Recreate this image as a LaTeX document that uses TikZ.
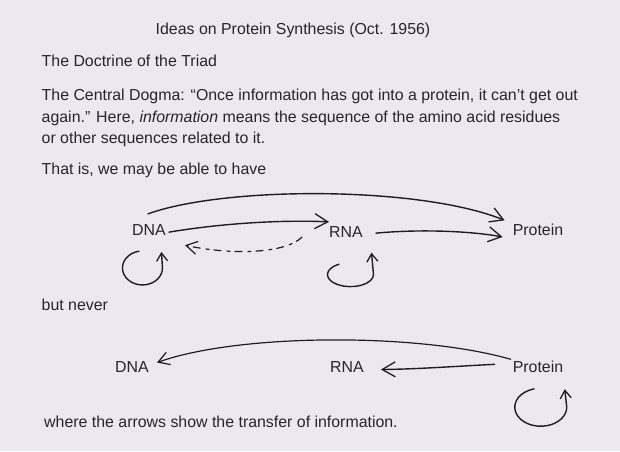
\documentclass[tikz,border=0pt]{standalone}
\usepackage{fontspec}
\setmainfont{Liberation Sans}
\usetikzlibrary{arrows.meta}
\definecolor{bg}{HTML}{ECE8F2}
\definecolor{ink}{HTML}{1E1E1E}
\definecolor{txtc}{HTML}{262626}
\begin{document}
\begin{tikzpicture}[x=1pt,y=-1pt,
  txt/.style={font=\fontsize{15.9}{18}\selectfont, text=txtc, inner sep=0pt},
  para/.style={txt, anchor=base west},
  lab/.style={txt, anchor=base},
  arr/.style={draw=ink, line width=1.4pt, line cap=round,
    -{Straight Barb[length=13pt,width=15pt,line width=1.3pt]}},
  arrs/.style={draw=ink, line width=1.2pt, line cap=round,
    -{Straight Barb[length=11pt,width=13pt,line width=1.2pt]}},
  loopy/.style={draw=ink, line width=1.4pt, line cap=round,
    -{Straight Barb[length=8pt,width=11pt,line width=1.3pt]}}
]
\fill[bg] (0,0) rectangle (620,451);
\useasboundingbox (0,0) rectangle (620,451);

% texts
\node[lab] (title) at (293,34) {Ideas on Protein Synthesis (Oct. 1956)};
\node[para] (doctrine) at (41.5,66.7) {The Doctrine of the Triad};
\node[para] (dogma1) at (41.5,100.5) {The Central Dogma: “Once information has got into a protein, it can’t get out};
\node[para] (dogma2) at (41.5,122) {again.” Here, \textit{information} means the sequence of the amino acid residues};
\node[para] (dogma3) at (41.5,143.5) {or other sequences related to it.};
\node[para] (thatis) at (41.5,174) {That is, we may be able to have};
\node[para] (never) at (41.5,310.7) {but never};
\node[para] (where) at (44,427.3) {where the arrows show the transfer of information.};

% labels top
\node[lab] (dna1) at (149,235) {DNA};
\node[lab] (rna1) at (346,237) {RNA};
\node[lab] (prot1) at (538,235) {Protein};
% labels bottom
\node[lab] (dna2) at (132,372) {DNA};
\node[lab] (rna2) at (347,372) {RNA};
\node[lab] (prot2) at (538,372) {Protein};

% top arrows
\draw[arr] ([shift={(-1,-10)}]dna1.north) .. controls (225,186) and (420,186) .. ([shift={(-8,-9)}]prot1.west);
\draw[arr] ([shift={(3,2.6)}]dna1.east) .. controls (230,222) and (290,220) .. ([shift={(0,-4)}]rna1.north west);
\draw[arr] ([shift={(13,1.6)}]rna1.east) .. controls (420,229) and (470,231) .. ([shift={(-10,7.6)}]prot1.west);
\draw[arrs, dash pattern=on 7pt off 5pt on 3pt off 6pt] ([shift={(-27,5.6)}]rna1.west) .. controls (285,254) and (230,255) .. ([shift={(19,10)}]dna1.south east);

% self loops top (centres: DNA (141,268), RNA (346,276))
\draw[loopy] ([shift={(-10,16)}]dna1.south) arc[start angle=-100, end angle=-360, x radius=20, y radius=17] -- ++(-1,-16);
\draw[loopy] ([shift={(-7,27)}]rna1.south) arc[start angle=-120, end angle=-360, x radius=23, y radius=12] -- ++(-2,-22);

% bottom arrows
\draw[arrs] ([shift={(-2,-1)}]prot2.north west) .. controls (420,333) and (240,333) .. ([shift={(8,-4)}]dna2.east);
\draw[arr] ([shift={(-18,-2)}]prot2.west) .. controls (460,366) and (420,369) .. ([shift={(17,3)}]rna2.east);

% self loop bottom (centre (541,407))
\draw[loopy] ([shift={(-4,16.5)}]prot2.south) arc[start angle=-105, end angle=-360, x radius=26, y radius=19] -- ++(-2,-18);
\end{tikzpicture}
\end{document}
